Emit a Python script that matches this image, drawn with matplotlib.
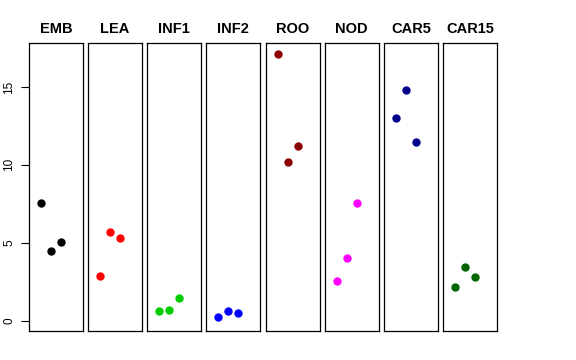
import matplotlib
matplotlib.use('Agg')
import matplotlib.pyplot as plt

plt.rcParams['font.family'] = ['Liberation Sans', 'DejaVu Sans']

# tissue groups and their replicate values
tissues = ['EMB', 'LEA', 'INF1', 'INF2', 'ROO', 'NOD', 'CAR5', 'CAR15']
values = {
    'EMB': [7.53, 4.48, 5.06],
    'LEA': [2.84, 5.66, 5.32],
    'INF1': [0.61, 0.67, 1.47],
    'INF2': [0.21, 0.61, 0.46],
    'ROO': [17.14, 10.16, 11.23],
    'NOD': [2.56, 4.01, 7.55],
    'CAR5': [13.03, 14.82, 11.46],
    'CAR15': [2.17, 3.46, 2.79],
}
colors = ['black', 'red', '#00CD00', 'blue', '#8B0000', 'magenta', '#00008B', '#006400']
reps = [1, 2, 3]

fig, axes = plt.subplots(1, 8, figsize=(5.76, 3.6), dpi=100, sharey=True)
fig.subplots_adjust(left=29/576, right=497/576, top=1-43/360, bottom=1-331/360, wspace=0.095)

for ax, t, c in zip(axes, tissues, colors):
    ax.plot(reps, values[t], 'o', color=c, markersize=5)
    ax.set_xlim(-0.2, 5.2)
    ax.set_ylim(-0.67, 17.82)
    ax.set_title(t, fontsize=10.5, fontweight='bold', pad=7)
    ax.set_xticks([])
    for s in ax.spines.values():
        s.set_linewidth(0.9)
    if ax is not axes[0]:
        ax.tick_params(left=False, labelleft=False)

axes[0].set_yticks([0, 5, 10, 15])
axes[0].tick_params(axis='y', length=6, width=0.8, labelsize=8.5, pad=4)
for lbl in axes[0].get_yticklabels():
    lbl.set_rotation(90)
    lbl.set_va('center')

plt.savefig('out.png', dpi=100)
